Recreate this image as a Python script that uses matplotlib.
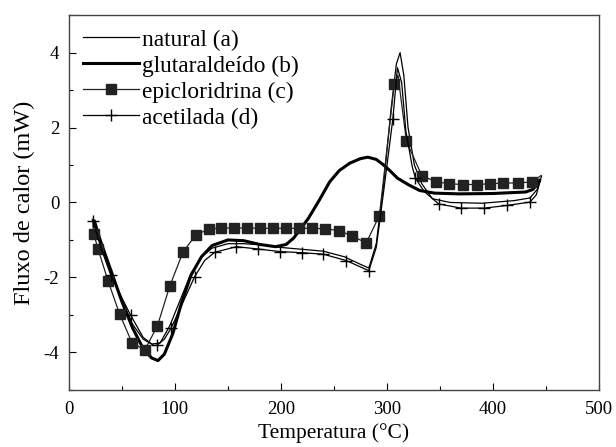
import matplotlib
matplotlib.use("Agg")
import matplotlib.pyplot as plt
from matplotlib.ticker import MultipleLocator

# natural (a)
nat_x = [22, 30, 40, 50, 60, 70, 78, 86, 95, 105, 115, 125, 135, 150, 165,
         180, 200, 220, 240, 260, 275, 283, 290, 297, 304, 309, 312.5, 316,
         320, 326, 333, 343, 360, 390, 420, 435, 442, 446]
nat_y = [-0.45, -1.1, -1.85, -2.6, -3.25, -3.65, -3.78, -3.75, -3.3, -2.6,
         -1.9, -1.45, -1.22, -1.1, -1.1, -1.13, -1.2, -1.25, -1.3, -1.45,
         -1.65, -1.75, -1.1, 0.5, 2.5, 3.7, 4.0, 3.4, 2.0, 1.0, 0.5, 0.1,
         0.0, -0.02, 0.05, 0.12, 0.35, 0.7]

# glutaraldeido (b)
glu_x = [24, 30, 40, 50, 60, 70, 78, 84, 90, 98, 106, 115, 125, 135, 150,
         165, 180, 195, 205, 212, 219, 226, 236, 246, 255, 265, 275, 282,
         290, 297, 302.5, 310, 320, 331, 345, 368, 400, 431, 438, 444]
glu_y = [-0.5, -1.05, -1.85, -2.65, -3.35, -3.9, -4.15, -4.22, -4.05, -3.5,
         -2.7, -1.95, -1.45, -1.15, -1.0, -1.02, -1.12, -1.18, -1.12, -0.95,
         -0.69, -0.42, 0.05, 0.55, 0.85, 1.05, 1.17, 1.21, 1.15, 1.0, 0.86,
         0.65, 0.48, 0.32, 0.25, 0.23, 0.24, 0.28, 0.35, 0.59]

# epicloridrina (c)
epi_x = [22.5, 23.4, 27.4, 36.8, 47.8, 59.4, 71.4, 83.4, 95, 107.5, 119.5,
         132, 143.7, 155.7, 168, 180, 192.5, 204.4, 216.7, 229, 242, 254.6,
         267, 280.5, 293, 307, 310.5, 318.5, 333, 346.6, 359, 371.8, 385,
         397.5, 410, 423.6, 437, 445.6]
epi_y = [-0.55, -0.84, -1.24, -2.09, -2.98, -3.74, -3.94, -3.3, -2.24, -1.33,
         -0.87, -0.71, -0.68, -0.68, -0.68, -0.69, -0.69, -0.69, -0.69, -0.69,
         -0.7, -0.75, -0.89, -1.08, -0.35, 3.16, 3.4, 1.63, 0.72, 0.55, 0.5,
         0.48, 0.48, 0.5, 0.52, 0.52, 0.55, 0.72]
epi_marks = [i for i in range(1, len(epi_x) - 1) if i != 26]

# acetilada (d)
ace_x = [22.7, 30, 39.3, 50, 58.2, 70, 80, 83, 90, 96.6, 107, 118.6, 128,
         137.5, 158, 178, 198.8, 219.8, 240, 261.7, 275, 283, 290, 297,
         305.7, 310, 314, 318, 324, 327, 335, 349, 370, 392, 413, 435, 441,
         445]
ace_y = [-0.5, -1.2, -1.93, -2.55, -3.01, -3.6, -3.82, -3.81, -3.65, -3.34,
         -2.7, -1.98, -1.55, -1.33, -1.18, -1.24, -1.31, -1.34, -1.38, -1.55,
         -1.72, -1.82, -1.2, 0.3, 2.24, 3.6, 3.2, 1.9, 0.95, 0.65, 0.3,
         -0.04, -0.15, -0.15, -0.08, 0.01, 0.2, 0.6]
ace_marks = [0, 2, 4, 7, 9, 11, 13, 14, 15, 16, 17, 18, 19, 21, 24, 29, 31,
             32, 33, 34, 35]

plt.rcParams['font.family'] = ['Liberation Serif', 'DejaVu Serif']
plt.rcParams['axes.unicode_minus'] = False

fig = plt.figure(figsize=(6.16, 4.47), dpi=100)
ax = fig.add_axes([0.112, 0.128, 0.86, 0.838])

ax.plot(nat_x, nat_y, color='black', lw=0.9, label='natural (a)')
ax.plot(glu_x, glu_y, color='black', lw=2.2, label='glutaraldeído (b)')
ax.plot(epi_x, epi_y, color='#222222', lw=0.9, marker='s', ms=6.5,
        markevery=epi_marks, mfc='#222222', mec='#222222',
        label='epicloridrina (c)')
ax.plot(ace_x, ace_y, color='black', lw=0.9, marker='+', ms=9, mew=1,
        markevery=ace_marks, label='acetilada (d)')

ax.set_xlim(0, 500)
ax.set_ylim(-5, 5)
ax.xaxis.set_major_locator(MultipleLocator(100))
ax.xaxis.set_minor_locator(MultipleLocator(50))
ax.yaxis.set_major_locator(MultipleLocator(2))
ax.yaxis.set_minor_locator(MultipleLocator(1))
ax.tick_params(which='both', direction='in', top=False, right=False,
               labelsize=13.5, width=0.8)
ax.tick_params(axis='x', which='both', pad=8)
ax.tick_params(axis='y', which='both', pad=7)
ax.tick_params(which='major', length=5)
ax.tick_params(which='minor', length=3)
for s in ax.spines.values():
    s.set_color('#444444')
    s.set_linewidth(1)

ax.set_xlabel('Temperatura (°C)', fontsize=15.5, labelpad=4)
ax.set_ylabel('Fluxo de calor (mW)', fontsize=17.5, labelpad=6)

ax.legend(loc='upper left', frameon=False, fontsize=16.8, handlelength=2.4,
          handletextpad=0.15, labelspacing=0.2, borderaxespad=0.2,
          borderpad=0.4)

fig.savefig('out.png', dpi=100)
